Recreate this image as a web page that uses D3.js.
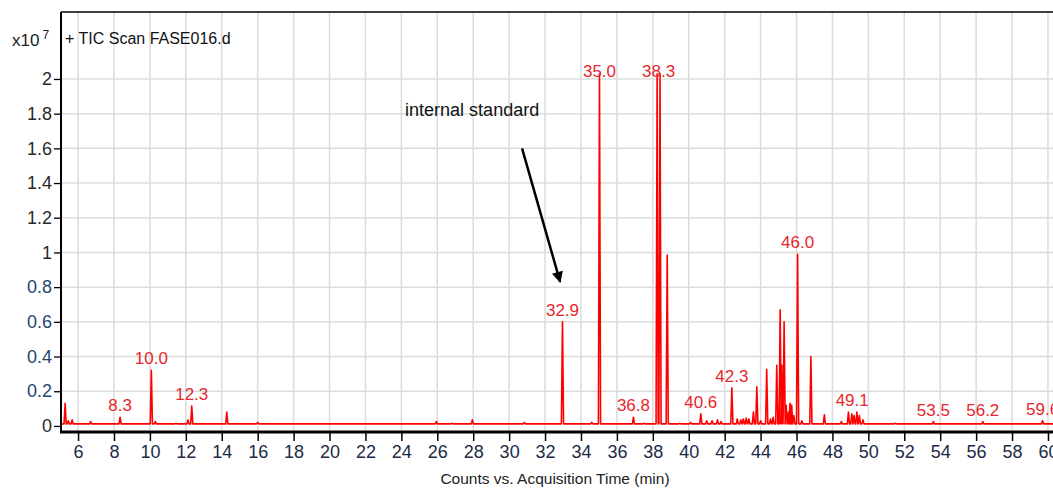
<!DOCTYPE html>
<html>
<head>
<meta charset="utf-8">
<script src="https://cdn.jsdelivr.net/npm/d3@7"></script>
<style>
  body { margin: 0; background: #fff; }
  svg { display: block; font-family: "Liberation Sans", Arial, sans-serif; }
</style>
</head>
<body>
<div class="chart"></div>
<script>
// retention time (min) and height (x10^7 counts) of each spike in the trace
var peakTimes = [5.28, 5.45, 5.67, 6.7, 8.34, 10.08, 10.3, 11.45, 12.12, 12.33, 13.2, 14.28, 16.0,
  18.1, 25.95, 26.8, 27.95, 29.4, 30.85, 32.97, 34.6, 35.03, 36.92, 37.5, 38.24, 38.4, 38.8,
  39.5, 40.1, 40.67, 41.0, 41.3, 41.6, 41.8, 42.4, 42.7, 42.9, 43.04, 43.2, 43.35, 43.6, 43.79,
  44.0, 44.34, 44.55, 44.7, 44.9, 45.09, 45.18, 45.31, 45.42, 45.55, 45.64, 45.73, 45.85, 46.06,
  46.3, 46.8, 47.55, 48.5, 48.89, 49.08, 49.2, 49.36, 49.5, 49.7, 51.5, 53.62, 56.37, 59.7]
var peakHeights = [0.13, 0.03, 0.035, 0.025, 0.05, 0.32, 0.025, 0.015, 0.035, 0.115, 0.012, 0.08, 0.02,
  0.012, 0.025, 0.015, 0.035, 0.012, 0.02, 0.60, 0.02, 2.03, 0.05, 0.015, 2.03, 2.03, 0.985,
  0.015, 0.02, 0.07, 0.03, 0.03, 0.035, 0.025, 0.22, 0.04, 0.035, 0.04, 0.045, 0.04, 0.08, 0.226,
  0.03, 0.327, 0.04, 0.05, 0.35, 0.67, 0.35, 0.60, 0.12, 0.08, 0.13, 0.12, 0.06, 0.99,
  0.03, 0.40, 0.064, 0.025, 0.08, 0.07, 0.06, 0.08, 0.06, 0.035, 0.015, 0.025, 0.025, 0.03]
var baseline = 0.012

var labelTexts = ['8.3', '10.0', '12.3', '32.9', '35.0', '38.3', '36.8', '40.6', '42.3', '46.0', '49.1', '53.5', '56.2', '59.6']
var labelTimes = [8.34, 10.08, 12.33, 32.97, 35.03, 38.32, 36.92, 40.67, 42.4, 46.06, 49.1, 53.62, 56.37, 59.7]
var labelHeights = [0.05, 0.32, 0.115, 0.60, 2.03, 2.03, 0.05, 0.07, 0.22, 0.99, 0.08, 0.025, 0.025, 0.03]

var xTicks = d3.range(6, 61, 2)
var yTicks = [0, 0.2, 0.4, 0.6, 0.8, 1, 1.2, 1.4, 1.6, 1.8, 2]

var noteText = 'internal standard'
var notePos = [27.94, 1.787]
var arrowFrom = [30.72, 1.60]
var arrowTo = [32.84, 0.83]

var width = 1053
var height = 488
var plotLeft = 61, plotTop = 12, plotBottom = 432

var x = d3.scaleLinear().domain([5.05, 60.28]).range([plotLeft, width])
var y = d3.scaleLinear().domain([-0.035, 2.386]).range([plotBottom, plotTop])

var svg = d3.select('.chart')
  .append('svg')
  .attr('width', width)
  .attr('height', height)

var defs = svg.append('defs')
defs.append('clipPath')
  .attr('id', 'plot')
  .append('rect')
  .attr('x', plotLeft).attr('y', plotTop)
  .attr('width', width - plotLeft).attr('height', plotBottom - plotTop)

defs.append('marker')
  .attr('id', 'head')
  .attr('viewBox', '0 0 10 10')
  .attr('refX', 9).attr('refY', 5)
  .attr('markerWidth', 5).attr('markerHeight', 4.5)
  .attr('markerUnits', 'strokeWidth')
  .attr('orient', 'auto')
  .append('path')
  .attr('d', 'M0,0L10,5L0,10z')
  .style('fill', '#000')

// grid
svg.append('g').selectAll('line')
  .data(xTicks)
  .enter().append('line')
  .attr('x1', d => x(d)).attr('x2', d => x(d))
  .attr('y1', plotTop).attr('y2', plotBottom)
  .style('stroke', '#dcdcdc').style('stroke-width', 1.5)

svg.append('g').selectAll('line')
  .data(yTicks.slice(1))
  .enter().append('line')
  .attr('x1', plotLeft).attr('x2', width)
  .attr('y1', d => y(d)).attr('y2', d => y(d))
  .style('stroke', '#dcdcdc').style('stroke-width', 1.5)

// trace
var pts = [[5.05, baseline]]
peakTimes.forEach(function(t, i) {
  pts.push([t - 0.06, baseline], [t, peakHeights[i]], [t + 0.06, baseline])
})
pts.push([60.28, baseline])

svg.append('path')
  .datum(pts)
  .attr('clip-path', 'url(#plot)')
  .attr('d', d3.line().x(d => x(d[0])).y(d => y(d[1])))
  .style('fill', 'none')
  .style('stroke', '#f00')
  .style('stroke-width', 1.6)
  .style('stroke-linejoin', 'round')

// peak labels
svg.append('g').selectAll('text')
  .data(labelTexts)
  .enter().append('text')
  .attr('x', (d, i) => x(labelTimes[i]))
  .attr('y', (d, i) => Math.max(y(labelHeights[i]) - 6, y(2) - 2))
  .attr('text-anchor', 'middle')
  .style('font-size', '17px')
  .style('fill', '#e8262c')
  .text(d => d)

// axes
var xAxis = d3.axisBottom(x).tickValues(xTicks).tickSize(9).tickPadding(4).tickSizeOuter(0)
var gx = svg.append('g')
  .attr('transform', 'translate(0,' + plotBottom + ')')
  .call(xAxis)
gx.select('.domain').remove()
gx.selectAll('line').style('stroke', '#000').style('stroke-width', 1.5)
gx.selectAll('text').attr('font-family', null).attr('font-size', null)
  .style('font-size', '18px').style('fill', '#1c2b45')

var yAxis = d3.axisLeft(y).tickValues(yTicks).tickSize(7).tickPadding(2).tickFormat(d3.format('~g'))
var gy = svg.append('g')
  .attr('transform', 'translate(' + plotLeft + ',0)')
  .call(yAxis)
gy.select('.domain').remove()
gy.selectAll('line').style('stroke', '#000').style('stroke-width', 1.3)
gy.selectAll('text').attr('font-family', null).attr('font-size', null)
  .style('font-size', '18px')
  .style('fill', d => (d > 0 && d < 1) ? '#22456f' : '#2a2a2a')

// frame
svg.append('line')
  .attr('x1', plotLeft).attr('x2', width).attr('y1', plotTop).attr('y2', plotTop)
  .style('stroke', '#000').style('stroke-width', 1.5)
svg.append('line')
  .attr('x1', plotLeft).attr('x2', plotLeft).attr('y1', plotTop).attr('y2', plotBottom)
  .style('stroke', '#000').style('stroke-width', 2)
svg.append('line')
  .attr('x1', plotLeft - 1).attr('x2', width).attr('y1', plotBottom).attr('y2', plotBottom)
  .style('stroke', '#000').style('stroke-width', 3)

// texts
var mult = svg.append('text').attr('x', 12).attr('y', 46).style('font-size', '17px').style('fill', '#222')
mult.append('tspan').text('x10')
mult.append('tspan').attr('dx', 3).attr('dy', -7).style('font-size', '12px').text('7')

svg.append('text')
  .attr('x', 65).attr('y', 44)
  .style('font-size', '16px').style('fill', '#111')
  .text('+ TIC Scan FASE016.d')

svg.append('text')
  .attr('x', 555).attr('y', 484)
  .attr('text-anchor', 'middle')
  .style('font-size', '15.5px').style('fill', '#222')
  .text('Counts vs. Acquisition Time (min)')

svg.append('text')
  .attr('x', x(notePos[0])).attr('y', y(notePos[1]))
  .attr('text-anchor', 'middle')
  .style('font-size', '18px').style('fill', '#111')
  .text(noteText)

svg.append('line')
  .attr('x1', x(arrowFrom[0])).attr('y1', y(arrowFrom[1]))
  .attr('x2', x(arrowTo[0])).attr('y2', y(arrowTo[1]))
  .attr('marker-end', 'url(#head)')
  .style('stroke', '#000').style('stroke-width', 2.5)
</script>
</body>
</html>
